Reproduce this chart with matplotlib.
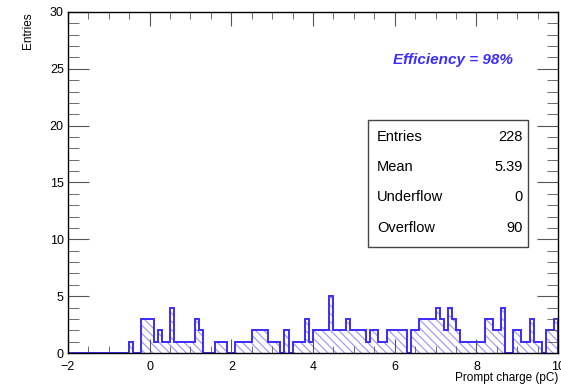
import numpy as np
import matplotlib
matplotlib.use('Agg')
import matplotlib.pyplot as plt
from matplotlib.ticker import MultipleLocator

# histogram: 0.1 pC bins from -2 to 10, counts
bin_low = -2.0
bin_width = 0.1
counts_from_m06 = [0, 1, 0, 0, 3, 3, 3, 1, 2, 1, 1, 4, 1, 1, 1, 1, 1,   # -0.6 .. 1.0
                   3, 2, 0, 0, 0, 1, 1, 1, 0, 0, 1, 1, 1, 1,              # 1.1 .. 2.4
                   2, 2, 2, 2, 1, 1, 1, 0, 2, 0, 1, 1, 1, 3, 1,           # 2.5 .. 3.9
                   2, 2, 2, 2, 5, 2, 2, 2, 3, 2,                          # 4.0 .. 4.9
                   2, 2, 2, 1, 2, 2, 1, 1, 2, 2,                          # 5.0 .. 5.9
                   2, 2, 2, 0, 2, 2, 3, 3, 3, 3,                          # 6.0 .. 6.9
                   4, 3, 2, 4, 3, 2, 1, 1, 1, 1,                          # 7.0 .. 7.9
                   1, 1, 3, 3, 2, 2, 4, 0, 0, 2,                          # 8.0 .. 8.9
                   2, 1, 1, 3, 1, 1, 0, 2, 2, 3]                          # 9.0 .. 9.9
counts = [0] * 14 + counts_from_m06

stats_names = ['Entries', 'Mean', 'Underflow', 'Overflow']
stats_values = ['228', '5.39', '0', '90']
eff_text = 'Efficiency = 98%'

plt.rcParams['font.family'] = ['Liberation Sans', 'DejaVu Sans']
plt.rcParams['hatch.linewidth'] = 0.8

fig = plt.figure(figsize=(5.61, 3.85), dpi=100)
ax = fig.add_axes([0.121, 0.083, 0.874, 0.886])

edges = bin_low + bin_width * np.arange(len(counts) + 1)
ax.stairs(counts, edges, fill=True, facecolor='none', edgecolor='#9a92ff',
          hatch='\\\\\\\\', linewidth=0)
ax.stairs(counts, edges, color='#3b2cff', linewidth=1.4, baseline=0)

ax.set_xlim(-2, 10)
ax.set_ylim(0, 30)
ax.xaxis.set_major_locator(MultipleLocator(2))
ax.xaxis.set_minor_locator(MultipleLocator(0.5))
ax.yaxis.set_major_locator(MultipleLocator(5))
ax.yaxis.set_minor_locator(MultipleLocator(1))
ax.tick_params(which='both', direction='in', top=True, right=True, labelsize=9, color='#555555')
ax.tick_params(axis='x', which='major', length=10, pad=6)
ax.tick_params(axis='x', which='minor', length=5)
ax.tick_params(axis='y', which='major', length=15, pad=3)
ax.tick_params(axis='y', which='minor', length=8)
for s in ax.spines.values():
    s.set_linewidth(1.0)

ax.set_ylabel('Entries', fontsize=8.5)
ax.yaxis.set_label_coords(-0.07, 1.0)
ax.yaxis.label.set_horizontalalignment('right')
ax.set_xlabel('Prompt charge (pC)', fontsize=8.5)
ax.xaxis.set_label_coords(1.0, -0.055)
ax.xaxis.label.set_horizontalalignment('right')

fig.text(0.808, 0.843, eff_text, color='#3b2cff', fontsize=11, fontweight='bold',
         fontstyle='italic', ha='center', va='center')

# stats box
box = plt.Rectangle((0.656, 0.358), 0.286, 0.33, transform=fig.transFigure,
                    facecolor='white', edgecolor='#444444', linewidth=1.0)
fig.add_artist(box)
rows_y = [0.644, 0.566, 0.488, 0.408]
for name, val, y in zip(stats_names, stats_values, rows_y):
    fig.text(0.672, y, name, fontsize=10.5, va='center', ha='left')
    fig.text(0.932, y, val, fontsize=10.5, va='center', ha='right')

fig.savefig('out.png', dpi=100)
